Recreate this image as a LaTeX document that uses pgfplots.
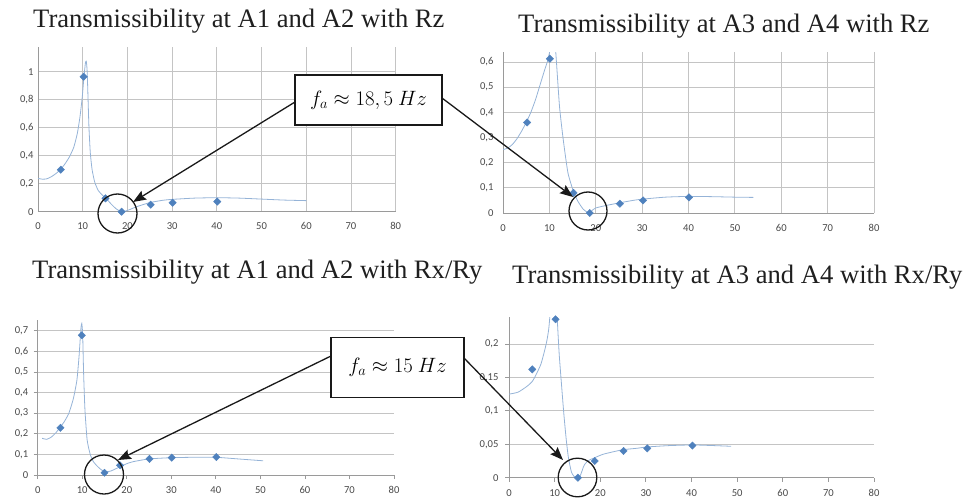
\documentclass[border=0pt]{standalone}
\usepackage{fontspec}
\setmainfont{Liberation Serif}
\newfontfamily\carlito{Carlito}
\usepackage{pgfplots}
\pgfplotsset{compat=1.18}
\usetikzlibrary{arrows.meta}
\definecolor{mk}{HTML}{4F81BD}
\definecolor{cv}{HTML}{95B3D7}
\definecolor{gr}{HTML}{C4C4C4}
\definecolor{ax}{HTML}{9A9A9A}
\definecolor{tk}{HTML}{4A4A4A}
\pgfplotsset{
 excel/.style={
  scale only axis, anchor=south west, xmin=0, xmax=80, ymin=0,
  xtick={0,10,20,30,40,50,60,70,80},
  axis x line*=bottom, axis y line*=left,
  tick label style={font=\carlito\fontsize{10.6}{12}\selectfont, text=tk},
  /pgf/number format/assume math mode=true,
  /pgf/number format/use comma,
  /pgf/number format/fixed,
  /pgf/number format/precision=2,
  xticklabel style={yshift=-6pt},
  grid style={gr, line width=0.8pt},
  axis line style={ax, line width=0.8pt, -},
  tick style={ax, line width=0.8pt},
 },
 gridboth/.style={grid=major, major tick length=0pt},
 gridy/.style={ymajorgrids, xmajorgrids=false, tick align=outside, major tick length=4pt},
 marks/.style={only marks, mark=square*, mark size=2.6pt, mark options={rotate=45, fill=mk, draw=mk}},
 crv/.style={no marks, draw=cv, line width=0.8pt, smooth, tension=0.35},
}
\begin{document}
\begin{tikzpicture}[x=1pt,y=1pt]
\path[use as bounding box] (0,0) rectangle (971,499);

% Panel 1
\begin{axis}[excel, gridboth, at={(38pt,287.3pt)}, width=357.7pt, height=164.7pt, ymax=1.176,
  ytick={0,0.2,0.4,0.6,0.8,1}, yticklabel style={xshift=-1pt}, xticklabel style={yshift=-1pt}]
\addplot[crv] coordinates {(0,0.238) (1,0.232) (2,0.235) (3,0.25) (4,0.272) (5,0.30) (6,0.34) (7,0.39) (8,0.46) (8.8,0.56) (9.4,0.68) (9.9,0.82) (10.3,0.97) (10.6,1.06) (10.8,1.075) (11.0,1.0) (11.2,0.8) (11.4,0.6) (11.7,0.42) (12.1,0.3) (12.7,0.21) (13.5,0.15) (14.5,0.115) (15.5,0.085) (16.5,0.05) (17.5,0.02) (18.3,0.005) (18.9,0.0) (19.5,0.004) (20.5,0.015) (22,0.035) (25,0.065) (28,0.082) (30,0.088) (35,0.097) (40,0.1) (45,0.097) (50,0.09) (55,0.083) (60,0.079)};
\addplot[marks] coordinates {(5.1,0.30) (10.2,0.964) (15.1,0.095) (18.7,0.0) (25.2,0.05) (30.1,0.064) (40.1,0.072)};
\end{axis}

% Panel 2
\begin{axis}[excel, gridboth, at={(503pt,286pt)}, width=371pt, height=161pt, ymax=0.64,
  ytick={0,0.1,0.2,0.3,0.4,0.5,0.6}, yticklabel style={xshift=-6pt}, xticklabel style={yshift=-2pt}]
\addplot[crv] coordinates {(0,0.252) (1,0.258) (2,0.272) (3,0.295) (4,0.325) (5,0.36) (6,0.40) (7,0.45) (8,0.51) (9,0.57) (9.7,0.61) (10.2,0.66) (10.8,0.8) (11.3,0.66) (11.6,0.58) (12.2,0.42) (13,0.29) (14,0.16) (15.2,0.085) (16.2,0.045) (17.3,0.015) (18.2,0.003) (18.7,0.0) (19.2,0.01) (20,0.02) (22,0.029) (25,0.04) (28,0.05) (30,0.055) (35,0.063) (40,0.066) (45,0.065) (50,0.063) (54,0.062)};
\addplot[marks] coordinates {(5.2,0.36) (10.1,0.613) (15.2,0.08) (18.7,0.0) (25.2,0.037) (30.2,0.05) (40.1,0.062)};
\end{axis}

% Panel 3
\begin{axis}[excel, gridy, at={(37.7pt,24pt)}, width=356.3pt, height=155pt, ymax=0.752,
  ytick={0,0.1,0.2,0.3,0.4,0.5,0.6,0.7}, yticklabel style={xshift=-2pt}, xticklabel style={yshift=2pt}]
\addplot[crv] coordinates {(1,0.178) (2,0.173) (3,0.183) (4,0.203) (5,0.23) (6,0.26) (7,0.30) (8,0.37) (8.8,0.46) (9.3,0.58) (9.7,0.71) (9.9,0.735) (10.1,0.68) (10.3,0.50) (10.6,0.32) (11.1,0.17) (11.8,0.1) (12.5,0.065) (13.5,0.04) (14.5,0.022) (15.5,0.016) (16.5,0.02) (17.5,0.03) (18.5,0.04) (20,0.055) (21.5,0.065) (25,0.078) (30,0.084) (35,0.086) (40,0.086) (45,0.078) (50.6,0.069)};
\addplot[marks] coordinates {(5.1,0.229) (9.9,0.678) (15.0,0.011) (18.5,0.047) (25.1,0.078) (30.1,0.084) (40.1,0.087)};
\end{axis}

% Panel 4
\begin{axis}[excel, gridy, at={(509pt,21.3pt)}, width=365pt, height=160.7pt, ymax=0.2404,
  ytick={0,0.05,0.1,0.15,0.2}, yticklabel style={xshift=-3pt}, xticklabel style={yshift=2pt}]
\addplot[crv] coordinates {(0,0.125) (2,0.128) (4,0.137) (5.1,0.144) (6,0.155) (7,0.17) (7.8,0.19) (8.3,0.205) (8.7,0.222) (9.0,0.245) (9.3,0.28) (9.8,0.34) (10.3,0.29) (10.6,0.235) (11.0,0.185) (11.5,0.14) (12.0,0.097) (12.5,0.06) (13.0,0.031) (13.7,0.008) (14.4,0.001) (15.2,0.0) (15.6,0.003) (15.9,0.008) (16.3,0.016) (16.7,0.021) (17.5,0.026) (18.8,0.03) (20.6,0.035) (23,0.039) (25.1,0.042) (28,0.044) (30.3,0.046) (35,0.048) (40.2,0.049) (45,0.048) (48.7,0.047)};
\addplot[marks] coordinates {(5.1,0.162) (10.2,0.237) (15.1,0.0) (18.8,0.025) (25.1,0.040) (30.3,0.044) (40.2,0.048)};
\end{axis}

% Titles
\node[anchor=base west, inner sep=0, text=black!88] at (33,471) {\fontsize{26.6}{30}\selectfont Transmissibility at A1 and A2 with Rz};
\node[anchor=base west, inner sep=0, text=black!88] at (518,466) {\fontsize{26.6}{30}\selectfont Transmissibility at A3 and A4 with Rz};
\node[anchor=base west, inner sep=0, text=black!88] at (32,221) {\fontsize{26.6}{30}\selectfont Transmissibility at A1 and A2 with Rx/Ry};
\node[anchor=base west, inner sep=0, text=black!88] at (512,216) {\fontsize{26.6}{30}\selectfont Transmissibility at A3 and A4 with Rx/Ry};

% Circles
\draw[line width=1.3pt, black!90] (117.5,285.5) circle (19.5);
\draw[line width=1.3pt, black!90] (588,288) circle (19);
\draw[line width=1.3pt, black!90] (104,24.5) circle (19.5);
\draw[line width=1.3pt, black!90] (577.5,21.5) circle (19.3);

% Arrows
\begin{scope}[line width=1.3pt, black!90, -{Stealth[length=13pt,width=10pt,inset=2pt]}]
\draw (295,397) -- (133,297);
\draw (442,401) -- (573,302);
\draw (331,143) -- (118,39);
\draw (464,141) -- (563,39);
\end{scope}

% Boxes
\node[draw=black!90, line width=1.3pt, fill=white, minimum width=147pt, minimum height=50pt, inner sep=0] at (368.5,399) {\fontsize{20}{24}\selectfont $f_a \approx 18,5\ Hz$};
\node[draw=black!90, line width=1.3pt, fill=white, minimum width=133pt, minimum height=60pt, inner sep=0] at (397.5,131.5) {\fontsize{20}{24}\selectfont $f_a \approx 15\ Hz$};
\end{tikzpicture}
\end{document}
